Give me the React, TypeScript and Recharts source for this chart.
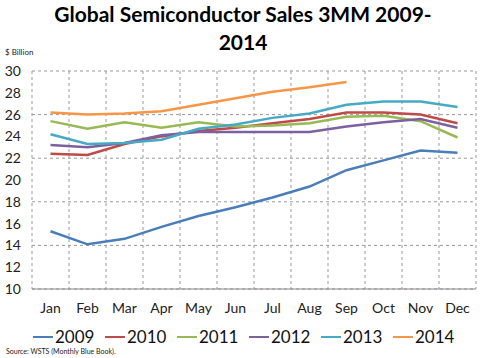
import { LineChart, Line, XAxis, YAxis, CartesianGrid } from 'recharts'

const months = ['Jan', 'Feb', 'Mar', 'Apr', 'May', 'Jun', 'Jul', 'Aug', 'Sep', 'Oct', 'Nov', 'Dec']

const sales2009 = [15.3, 14.1, 14.6, 15.7, 16.7, 17.5, 18.4, 19.4, 20.9, 21.8, 22.7, 22.5]
const sales2010 = [22.4, 22.3, 23.3, 24.0, 24.5, 24.8, 25.2, 25.6, 26.2, 26.2, 26.0, 25.2]
const sales2011 = [25.4, 24.7, 25.3, 24.8, 25.3, 24.9, 25.0, 25.2, 25.8, 25.9, 25.4, 23.9]
const sales2012 = [23.2, 23.0, 23.4, 24.1, 24.4, 24.4, 24.4, 24.4, 24.9, 25.3, 25.6, 24.8]
const sales2013 = [24.2, 23.3, 23.4, 23.7, 24.7, 25.1, 25.7, 26.1, 26.9, 27.2, 27.2, 26.7]
const sales2014 = [26.2, 26.0, 26.1, 26.3, 26.9, 27.5, 28.1, 28.5, 29.0]

const years = ['2009', '2010', '2011', '2012', '2013', '2014']
const seriesValues = [sales2009, sales2010, sales2011, sales2012, sales2013, sales2014]
const colors = ['#4A7EBB', '#BE4B48', '#98B954', '#7D60A0', '#46AAC5', '#F79646']
const yTicks = [10, 12, 14, 16, 18, 20, 22, 24, 26, 28, 30]

const data = months.map((m, i) => {
  const row: Record<string, string | number | null> = { month: m }
  years.forEach((y, k) => {
    row[y] = seriesValues[k][i] ?? null
  })
  return row
})

const font = 'Lato, "Open Sans", sans-serif'

export default function App() {
  return (
    <div style={{ position: 'relative', width: 480, height: 358, fontFamily: font, background: '#fff' }}>
      <style>{`body{margin:0}`}</style>
      <div
        style={{
          position: 'absolute',
          left: 0,
          top: 0,
          width: 486,
          textAlign: 'center',
          fontSize: 21,
          fontWeight: 700,
          lineHeight: '28px',
          color: '#000',
        }}
      >
        Global Semiconductor Sales 3MM 2009-
        <br />
        2014
      </div>
      <div style={{ position: 'absolute', left: 5, top: 47, fontSize: 8, color: '#222' }}>$ Billion</div>
      <LineChart width={480} height={358} data={data} margin={{ top: 71, right: 4, bottom: 0, left: 0 }}>
        <CartesianGrid
          stroke="#999"
          strokeDasharray="3 3"
          verticalCoordinatesGenerator={({ offset }: any) =>
            months.map((_, i) => offset.left + (i * offset.width) / months.length).concat(offset.left + offset.width)
          }
        />
        <XAxis
          dataKey="month"
          scale="band"
          height={69}
          tickLine={false}
          axisLine={{ stroke: '#888' }}
          tickMargin={8}
          tick={{ fontSize: 14, fill: '#222', fontFamily: font }}
          interval={0}
        />
        <YAxis
          domain={[10, 30]}
          ticks={yTicks}
          width={32}
          axisLine={false}
          tickLine={false}
          tickMargin={5}
          tick={{ fontSize: 14, fill: '#222', fontFamily: font }}
        />
        {years.map((y, k) => (
          <Line
            key={y}
            dataKey={y}
            stroke={colors[k]}
            strokeWidth={2.5}
            dot={false}
            type="linear"
            isAnimationActive={false}
          />
        ))}
      </LineChart>
      <div
        style={{
          position: 'absolute',
          left: 33,
          top: 329,
          display: 'flex',
          fontSize: 17,
          lineHeight: '16px',
          color: '#111',
        }}
      >
        {years.map((y, k) => (
          <div key={y} style={{ width: 72, display: 'flex', alignItems: 'center' }}>
            <span style={{ width: 20, height: 2.5, background: colors[k], marginRight: 2 }} />
            <span>{y}</span>
          </div>
        ))}
      </div>
      <div style={{ position: 'absolute', left: 6, top: 347, fontSize: 7, color: '#222' }}>
        Source: WSTS (Monthly Blue Book).
      </div>
    </div>
  )
}
